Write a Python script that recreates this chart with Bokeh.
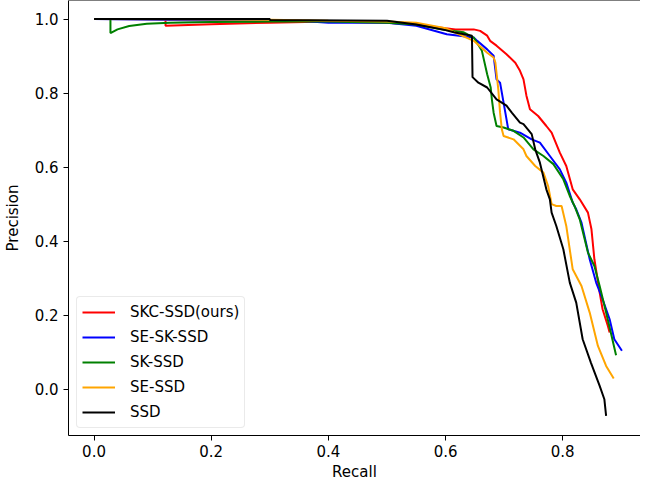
from bokeh.plotting import figure
from bokeh.models import Range1d, FixedTicker, PrintfTickFormatter, Span
from bokeh.embed import file_html
from bokeh.resources import INLINE

# ---- data ----
skc_x = [0, 0.122, 0.122, 0.2, 0.3, 0.4, 0.5, 0.55, 0.6, 0.617, 0.648, 0.659, 0.671, 0.676, 0.687,
         0.704, 0.719, 0.727, 0.733, 0.738, 0.744, 0.758, 0.772, 0.781, 0.795, 0.806, 0.817, 0.829,
         0.843, 0.849, 0.854, 0.863, 0.868, 0.877, 0.880]
skc_y = [1.0, 1.0, 0.982, 0.986, 0.99, 0.993, 0.99, 0.985, 0.975, 0.972, 0.972, 0.968, 0.955, 0.941, 0.928,
         0.905, 0.882, 0.860, 0.837, 0.793, 0.756, 0.738, 0.711, 0.693, 0.639, 0.603, 0.540, 0.513,
         0.477, 0.432, 0.351, 0.261, 0.216, 0.171, 0.153]

sesk_x = [0, 0.1, 0.2, 0.35, 0.4, 0.5, 0.55, 0.602, 0.648, 0.654, 0.671, 0.682, 0.687, 0.693, 0.699,
          0.702, 0.707, 0.727, 0.747, 0.761, 0.778, 0.795, 0.806, 0.817, 0.823, 0.832, 0.846, 0.857,
          0.868, 0.880, 0.888, 0.901]
sesk_y = [1.0, 0.998, 0.996, 0.995, 0.99, 0.99, 0.982, 0.959, 0.950, 0.941, 0.918, 0.901, 0.837, 0.828, 0.774,
          0.747, 0.702, 0.693, 0.675, 0.666, 0.630, 0.594, 0.558, 0.504, 0.486, 0.450, 0.351, 0.288,
          0.243, 0.189, 0.135, 0.104]

sk_x = [0, 0.028, 0.028, 0.04, 0.06, 0.09, 0.13, 0.2, 0.3, 0.4, 0.5, 0.55, 0.6, 0.631, 0.648, 0.662,
        0.671, 0.677, 0.679, 0.682, 0.687, 0.699, 0.716, 0.733, 0.750, 0.767, 0.784, 0.801, 0.812,
        0.820, 0.829, 0.843, 0.854, 0.863, 0.874, 0.882, 0.891]
sk_y = [1.0, 1.0, 0.962, 0.972, 0.981, 0.987, 0.99, 0.992, 0.993, 0.993, 0.99, 0.985, 0.97, 0.964, 0.950, 0.914,
        0.851, 0.815, 0.783, 0.747, 0.711, 0.707, 0.698, 0.680, 0.648, 0.630, 0.608, 0.567, 0.522,
        0.495, 0.459, 0.369, 0.333, 0.279, 0.207, 0.153, 0.092]

se_x = [0, 0.2, 0.3, 0.4, 0.5, 0.55, 0.6, 0.648, 0.671, 0.682, 0.685, 0.690, 0.693, 0.696, 0.699,
        0.716, 0.733, 0.738, 0.753, 0.767, 0.775, 0.781, 0.789, 0.798, 0.806, 0.817, 0.832, 0.846,
        0.860, 0.874, 0.887]
se_y = [1.0, 0.999, 0.998, 0.995, 0.993, 0.99, 0.975, 0.941, 0.909, 0.896, 0.882, 0.810, 0.747, 0.702, 0.684,
        0.675, 0.648, 0.630, 0.603, 0.585, 0.549, 0.500, 0.495, 0.495, 0.441, 0.324, 0.279, 0.207,
        0.117, 0.063, 0.029]

ssd_x = [0, 0.3, 0.3, 0.5, 0.55, 0.6, 0.614, 0.645, 0.646, 0.656, 0.671, 0.687, 0.704, 0.713, 0.727,
         0.733, 0.747, 0.753, 0.761, 0.772, 0.778, 0.781, 0.789, 0.801, 0.812, 0.823, 0.834, 0.848,
         0.863, 0.871, 0.874]
ssd_y = [1.0, 1.0, 0.997, 0.995, 0.985, 0.97, 0.964, 0.955, 0.843, 0.828, 0.815, 0.783, 0.766, 0.747, 0.720,
         0.716, 0.689, 0.648, 0.612, 0.540, 0.513, 0.477, 0.441, 0.378, 0.288, 0.234, 0.135, 0.072,
         0.009, -0.027, -0.072]

x_ticks = [0.0, 0.2, 0.4, 0.6, 0.8]
y_ticks = [0.0, 0.2, 0.4, 0.6, 0.8, 1.0]

series = [
    ("SKC-SSD(ours)", skc_x, skc_y, "#ff0000"),
    ("SE-SK-SSD", sesk_x, sesk_y, "#0000ff"),
    ("SK-SSD", sk_x, sk_y, "#008000"),
    ("SE-SSD", se_x, se_y, "#ffa500"),
    ("SSD", ssd_x, ssd_y, "#000000"),
]

FONT = "DejaVu Sans"
FS = "15px"

p = figure(width=640, height=484, output_backend="svg", toolbar_location=None,
           x_range=Range1d(-0.0436, 0.9327), y_range=Range1d(-0.125, 1.05),
           min_border_left=64, min_border_right=0, min_border_top=0, min_border_bottom=49)

for name, xs, ys, col in series:
    p.line(xs, ys, line_color=col, line_width=2, legend_label=name)

p.grid.visible = False
p.outline_line_color = None
p.add_layout(Span(location=1.05, dimension="width", line_color="black", line_width=1))

for ax in (p.xaxis[0], p.yaxis[0]):
    ax.axis_line_color = "black"
    ax.axis_line_width = 1
    ax.major_tick_line_color = "black"
    ax.major_tick_in = 0
    ax.major_tick_out = 5
    ax.minor_tick_line_color = None
    ax.major_label_text_font = FONT
    ax.major_label_text_font_size = FS
    ax.major_label_text_color = "black"
    ax.axis_label_text_font = FONT
    ax.axis_label_text_font_size = FS
    ax.axis_label_text_font_style = "normal"
    ax.axis_label_text_color = "black"
    ax.formatter = PrintfTickFormatter(format="%.1f")

p.xaxis[0].ticker = FixedTicker(ticks=x_ticks)
p.yaxis[0].ticker = FixedTicker(ticks=y_ticks)
p.xaxis[0].axis_label = "Recall"
p.yaxis[0].axis_label = "Precision"
p.xaxis[0].major_label_standoff = 4
p.xaxis[0].axis_label_standoff = 3
p.yaxis[0].major_label_standoff = 5
p.yaxis[0].axis_label_standoff = 10

lg = p.legend[0]
lg.location = (8, 7)
lg.margin = 0
lg.padding = 5
lg.spacing = 5
lg.glyph_width = 33
lg.glyph_height = 20
lg.label_height = 20
lg.label_standoff = 15
lg.label_text_font = FONT
lg.label_text_font_size = FS
lg.label_text_color = "black"
lg.border_line_color = "#d5d5d5"
lg.border_radius = 4
lg.background_fill_alpha = 0.8

open("out.html", "w").write(file_html(p, INLINE))
